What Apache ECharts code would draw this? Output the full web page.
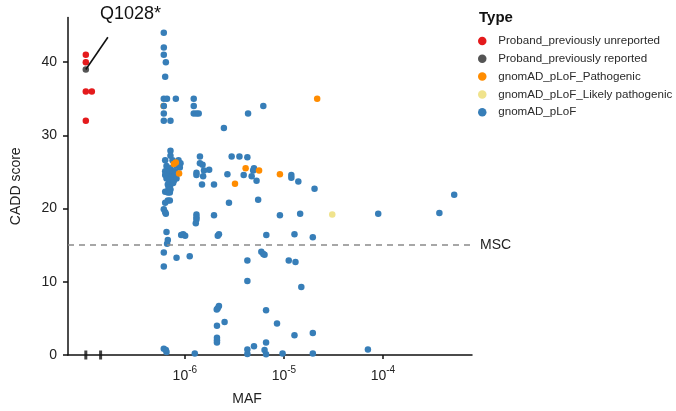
<!DOCTYPE html>
<html>
<head>
<meta charset="utf-8">
<script src="https://cdn.jsdelivr.net/npm/echarts@6/dist/echarts.min.js"></script>
<style>html,body{margin:0;padding:0;background:#fff}#c{width:676px;height:411px}</style>
</head>
<body>
<div id="c"></div>
<script>
// ---- data (MAF, CADD score) ----
var typeNames = ['Proband_previously unreported','Proband_previously reported','gnomAD_pLoF_Pathogenic','gnomAD_pLoF_Likely pathogenic','gnomAD_pLoF'];

var unreportedMAF  = [1e-7, 1e-7, 1e-7, 1.15e-7, 1e-7];
var unreportedCADD = [41, 40, 36, 36, 32];

var reportedMAF  = [1e-7];
var reportedCADD = [39];

var pathogenicMAF  = [6.1e-7, 7.74e-7, 8.11e-7, 8.75e-7, 3.21e-6, 4.11e-6, 5.62e-6, 9.12e-6, 2.17e-5];
var pathogenicCADD = [34, 26.1, 26.3, 24.8, 23.4, 25.5, 25.2, 24.7, 35];

var likelyMAF  = [3.08e-5];
var likelyCADD = [19.2];

var plofMAF = [
  6.13e-7, 6.13e-7, 6.13e-7, 6.43e-7, 6.33e-7, 6.13e-7, 6.6e-7, 8.11e-7, 1.23e-6, 6.13e-7,
  1.23e-6, 6.13e-7, 1.23e-6, 1.31e-6, 1.38e-6, 6.13e-7, 7.16e-7, 6.2e-6, 4.35e-6, 2.48e-6,
  7.16e-7, 7.16e-7, 6.33e-7, 7.51e-7, 8.63e-7, 9.04e-7, 6.53e-7, 7.16e-7, 8.24e-7, 8.9e-7,
  6.33e-7, 6.84e-7, 7.51e-7, 7.98e-7, 6.33e-7, 6.84e-7, 7.38e-7, 7.87e-7, 6.53e-7, 6.93e-7,
  7.74e-7, 8.24e-7, 6.73e-7, 7.16e-7, 7.62e-7, 6.84e-7, 7.16e-7, 6.33e-7, 6.73e-7, 7.05e-7,
  6.73e-7, 7.05e-7, 6.33e-7, 6.13e-7, 6.33e-7, 6.43e-7, 6.53e-7, 6.73e-7, 6.62e-7, 9.61e-7,
  1.007e-6, 9.18e-7, 1.42e-6, 1.42e-6, 1.51e-6, 1.56e-6, 1.76e-6, 1.31e-6, 1.31e-6, 1.53e-6,
  1.49e-6, 1.97e-6, 2.69e-6, 2.79e-6, 1.31e-6, 1.31e-6, 1.31e-6, 1.29e-6, 1.97e-6, 2.21e-6,
  2.15e-6, 6.13e-7, 6.13e-7, 8.24e-7, 1.12e-6, 2.97e-6, 3.56e-6, 4.28e-6, 4.99e-6, 4.9e-6,
  4.73e-6, 3.93e-6, 5.30e-6, 1.19e-5, 1.19e-5, 1.40e-5, 2.04e-5, 5.50e-6, 9.12e-6, 1.46e-5,
  6.65e-6, 1.28e-5, 1.96e-5, 4.28e-6, 5.92e-6, 6.20e-6, 6.38e-6, 1.12e-5, 1.31e-5, 8.97e-5,
  3.72e-4, 5.25e-4, 4.28e-6, 1.50e-5, 6.61e-6, 8.53e-6, 1.28e-5, 1.96e-5, 2.21e-6, 2.15e-6,
  2.10e-6, 2.11e-6, 2.52e-6, 2.11e-6, 2.11e-6, 2.11e-6, 6.13e-7, 6.43e-7, 6.53e-7, 1.26e-6,
  4.28e-6, 4.28e-6, 4.99e-6, 6.38e-6, 6.61e-6, 6.61e-6, 9.70e-6, 1.96e-5, 7.06e-5
];
var plofCADD = [
  44, 42, 41, 40, 38, 35, 35, 35, 35, 34,
  34, 33, 33, 33, 33, 32, 32, 34, 33, 31,
  27.9, 27.2, 26.6, 26.6, 26.6, 26.2, 25.8, 25.5, 25.9, 25.6,
  25.1, 25.1, 25.1, 25.1, 24.6, 24.4, 24.4, 24.5, 24.1, 23.9,
  23.8, 24.1, 23.3, 23.3, 23.5, 22.8, 22.6, 22.3, 22.2, 22.2,
  21.1, 21.1, 20.8, 19.9, 19.5, 19.3, 16.8, 15.7, 15.2, 16.5,
  16.3, 16.4, 27.1, 26.2, 26.0, 25.2, 25.3, 24.9, 24.6, 24.4,
  23.3, 23.3, 24.7, 20.8, 19.2, 18.8, 18.5, 18.0, 19.1, 16.5,
  16.3, 14.0, 12.1, 13.3, 13.5, 27.1, 27.1, 27.0, 25.5, 25.2,
  24.4, 24.6, 23.8, 24.6, 24.2, 23.7, 22.7, 21.2, 19.1, 19.3,
  16.4, 16.5, 16.1, 12.9, 14.1, 13.8, 13.7, 12.9, 12.7, 19.3,
  19.4, 21.9, 10.1, 9.3, 6.1, 4.3, 2.7, 3.0, 6.7, 6.4,
  6.2, 4.0, 4.5, 2.35, 2.0, 1.7, 0.86, 0.68, 0.4, 0.2,
  0.76, 0.14, 1.2, 0.7, 0.1, 1.7, 0.2, 0.2, 0.76
];

var xTickValues = [1e-6, 1e-5, 1e-4];
var yTickValues = [0, 10, 20, 30, 40];
var breakMarkMAF = [1e-7, 1.41e-7];
var mscThreshold = 15;
var annotationText = 'Q1028*';
var annotationEnd = [1.67e-7, 43.4];

var colors = ['#E41A1C', '#545454', '#FF8C00', '#F0E38C', '#377EB8'];

function zip(a, b) { return a.map(function (v, i) { return [v, b[i]]; }); }

var FONT = 'Liberation Sans, Arial, Helvetica, sans-serif';

var chart = echarts.init(document.getElementById('c'), null, {renderer: 'canvas'});

function scatter(i, data, extra) {
  var s = {
    name: typeNames[i], type: 'scatter', data: data, symbolSize: 6.5, clip: false,
    itemStyle: {color: colors[i], opacity: 1}, z: 3 + (i === 4 ? 0 : 1)
  };
  for (var k in extra) s[k] = extra[k];
  return s;
}

var option = {
  animation: false,
  textStyle: {fontFamily: FONT},
  title: {
    text: 'Type', left: 474, top: 5,
    textStyle: {fontSize: 15, fontWeight: 'bold', color: '#111', fontFamily: FONT}
  },
  legend: {
    orient: 'vertical', left: 473, top: 30,
    itemWidth: 22, itemHeight: 8.5, itemGap: 5.8, icon: 'circle',
    textStyle: {fontSize: 11.6, color: '#2a2a2a', fontFamily: FONT},
    data: typeNames
  },
  grid: {left: 68, right: 204, top: 17.5, bottom: 54.5},
  xAxis: {
    type: 'log', logBase: 10, min: Math.pow(10, -7.18), max: Math.pow(10, -3.1),
    name: 'MAF', nameLocation: 'middle', nameGap: 37,
    nameTextStyle: {fontSize: 14, color: '#222', padding: [0, 46, 0, 0]},
    axisLine: {show: true, lineStyle: {color: '#111', width: 1.5}},
    axisTick: {show: true, length: 4, customValues: xTickValues, lineStyle: {color: '#111', width: 1.5}},
    axisLabel: {
      customValues: xTickValues, margin: 10,
      formatter: function (v) {
        var e = String(Math.round(Math.log10(v)));
        return '{b|10}{s|' + e + '}';
      },
      rich: {
        b: {fontSize: 14, color: '#222', lineHeight: 18, verticalAlign: 'bottom', fontFamily: FONT},
        s: {fontSize: 10, color: '#222', verticalAlign: 'top', fontFamily: FONT}
      }
    },
    splitLine: {show: false}, minorTick: {show: false}
  },
  yAxis: {
    type: 'value', min: 0, max: 46.1,
    name: 'CADD score', nameLocation: 'middle', nameGap: 45,
    nameTextStyle: {fontSize: 14, color: '#222'},
    axisLine: {show: true, lineStyle: {color: '#111', width: 1.5}},
    axisTick: {show: true, length: 5, customValues: yTickValues, lineStyle: {color: '#111', width: 1.5}},
    axisLabel: {customValues: yTickValues, fontSize: 14, color: '#222', margin: 11},
    splitLine: {show: false}
  },
  series: [
    scatter(2, zip(pathogenicMAF.slice(0, 1), pathogenicCADD.slice(0, 1)), {z: 2}),
    scatter(4, zip(plofMAF, plofCADD), {
      markLine: {
        silent: true, symbol: 'none', animation: false,
        lineStyle: {color: '#8a8a8a', width: 1.5, type: [6, 5]},
        label: {show: true, position: 'end', formatter: 'MSC', fontSize: 14, color: '#222', distance: 8},
        data: [{yAxis: mscThreshold}]
      }
    }),
    scatter(3, zip(likelyMAF, likelyCADD)),
    scatter(2, zip(pathogenicMAF.slice(1), pathogenicCADD.slice(1))),
    scatter(0, zip(unreportedMAF, unreportedCADD)),
    scatter(1, zip(reportedMAF, reportedCADD), {
      markLine: {
        silent: true, symbol: 'none', animation: false,
        lineStyle: {color: '#111', width: 1.6, type: 'solid'},
        label: {show: false},
        data: [[{coord: [reportedMAF[0], reportedCADD[0]]}, {coord: annotationEnd}]]
      }
    }),
    {
      type: 'scatter', name: 'break', symbol: 'rect', symbolSize: [3, 9], clip: false, silent: true,
      itemStyle: {color: '#111'}, z: 5,
      data: breakMarkMAF.map(function (m) { return [m, 0]; })
    }
  ],
  graphic: [{
    type: 'text', left: 100, top: 5,
    style: {text: annotationText, fontSize: 18, fill: '#111', fontFamily: FONT}
  }]
};
chart.setOption(option);
</script>
</body>
</html>
